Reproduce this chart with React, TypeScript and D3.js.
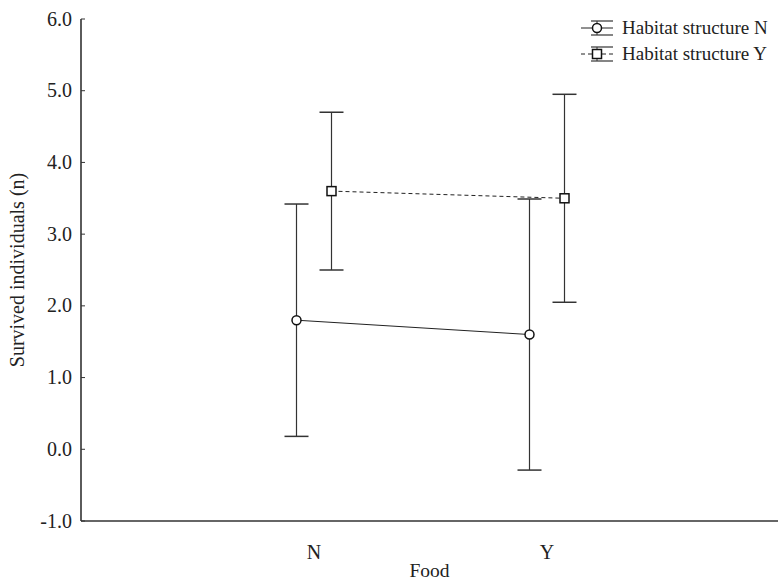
import React from 'react'
import * as d3 from 'd3'

// data
const categories = ['N', 'Y']
const seriesNames = ['Habitat structure N', 'Habitat structure Y']
const meansHabN = [1.8, 1.6]
const errHabN = [1.62, 1.89]
const meansHabY = [3.6, 3.5]
const errHabY = [1.1, 1.45]
const yTicks = [-1, 0, 1, 2, 3, 4, 5, 6]

const width = 778
const height = 581
const margin = { left: 81, right: -2, top: 19, bottom: 60 }
const ink = '#333'
const font = '"Liberation Serif", "Times New Roman", serif'

export default function App () {
  const x = d3.scalePoint<string>()
    .domain(['_a', ...categories, '_b'])
    .range([margin.left, width - margin.right])
  const y = d3.scaleLinear()
    .domain([-1, 6])
    .range([height - margin.bottom, margin.top])

  const offset = 17.5
  const capW = 24

  const series = [
    { name: seriesNames[0], means: meansHabN, errs: errHabN, dx: -offset, marker: 'circle', dash: null },
    { name: seriesNames[1], means: meansHabY, errs: errHabY, dx: offset, marker: 'square', dash: '4,3' }
  ]

  const line = d3.line<number>()
    .x((_, i) => (x(categories[i]) as number))
    .y(d => y(d))

  const marker = (kind: string, cx: number, cy: number, key?: string) =>
    kind === 'circle'
      ? <circle key={key} cx={cx} cy={cy} r={4.5} fill="#fff" stroke="#111" strokeWidth={1.5} />
      : <rect key={key} x={cx - 4.5} y={cy - 4.5} width={9} height={9} fill="#fff" stroke="#111" strokeWidth={1.5} />

  return (
    <svg width={width} height={height} style={{ position: 'absolute', left: 0, top: 0, background: '#fff' }}
      fontFamily={font}>
      {/* axes */}
      <line x1={margin.left} x2={margin.left} y1={y(6)} y2={y(-1)} stroke={ink} strokeWidth={1.6} />
      <line x1={margin.left} x2={width} y1={y(-1)} y2={y(-1)} stroke={ink} strokeWidth={1.6} />
      {yTicks.map(t => (
        <g key={t}>
          <line x1={margin.left} x2={margin.left + 4} y1={y(t)} y2={y(t)} stroke={ink} strokeWidth={1} />
          <text x={margin.left - 9} y={y(t) + 6.5} textAnchor="end" fontSize={20} fill="#222">
            {d3.format('.1f')(t).replace('−', '-')}
          </text>
        </g>
      ))}
      {categories.map(c => (
        <text key={c} x={x(c)} y={559} textAnchor="middle" fontSize={20} fill="#222">{c}</text>
      ))}
      <text x={(margin.left + width) / 2} y={577} textAnchor="middle" fontSize={19.5} fill="#222">Food</text>
      <text transform={`translate(24,${y(2.5)}) rotate(-90)`} textAnchor="middle" fontSize={20} fill="#222">
        Survived individuals (n)
      </text>

      {/* series */}
      {series.map(s => (
        <g key={s.name} transform={`translate(${s.dx},0)`}>
          <path d={line(s.means) || ''} fill="none" stroke="#222" strokeWidth={1}
            strokeDasharray={s.dash || undefined} />
          {s.means.map((m, i) => {
            const cx = x(categories[i]) as number
            const lo = y(m - s.errs[i])
            const hi = y(m + s.errs[i])
            return (
              <g key={i}>
                <line x1={cx} x2={cx} y1={hi} y2={lo} stroke="#333" strokeWidth={1.2} />
                <line x1={cx - capW / 2} x2={cx + capW / 2} y1={hi} y2={hi} stroke="#333" strokeWidth={1.5} />
                <line x1={cx - capW / 2} x2={cx + capW / 2} y1={lo} y2={lo} stroke="#333" strokeWidth={1.5} />
              </g>
            )
          })}
          {s.means.map((m, i) => marker(s.marker, x(categories[i]) as number, y(m), String(i)))}
        </g>
      ))}

      {/* legend */}
      {series.map((s, i) => {
        const ly = 28 + i * 26
        const lx = 597
        return (
          <g key={s.name}>
            <line x1={lx - 16} x2={lx + 16} y1={ly} y2={ly} stroke="#222" strokeWidth={1}
              strokeDasharray={s.dash || undefined} />
            <line x1={lx} x2={lx} y1={ly - 7} y2={ly + 7} stroke="#333" strokeWidth={1} />
            <line x1={lx - 6} x2={lx + 16} y1={ly - 7} y2={ly - 7} stroke="#333" strokeWidth={1.2} />
            <line x1={lx - 6} x2={lx + 16} y1={ly + 7} y2={ly + 7} stroke="#333" strokeWidth={1.2} />
            {marker(s.marker, lx, ly)}
            <text x={622} y={ly + 6} fontSize={19} fill="#222">{s.name}</text>
          </g>
        )
      })}
    </svg>
  )
}
